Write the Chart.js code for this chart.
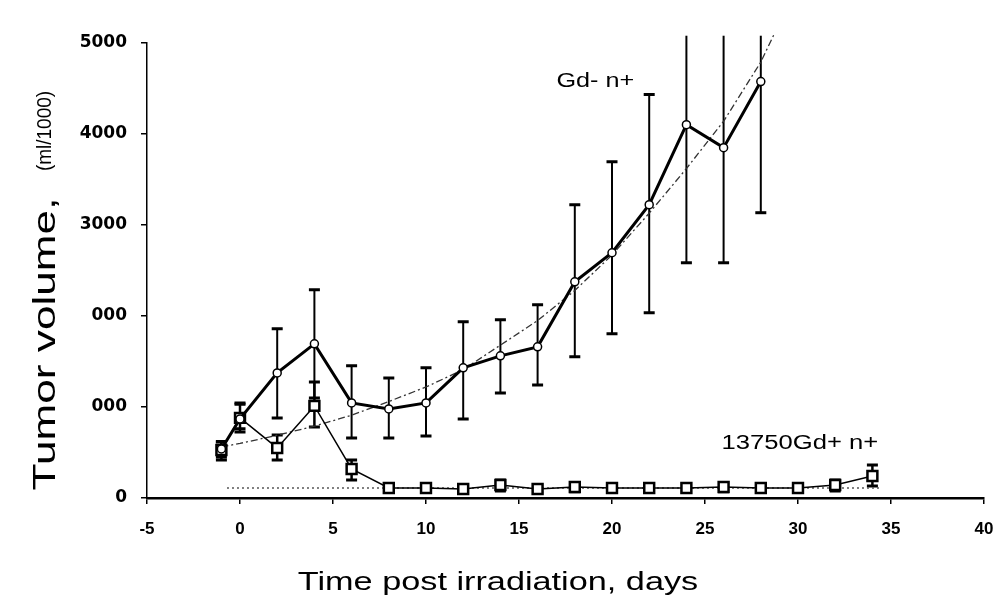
<!DOCTYPE html>
<html>
<head>
<meta charset="utf-8">
<script src="https://cdn.jsdelivr.net/npm/chart.js@4.4.1/dist/chart.umd.min.js"></script>
<style>
  html,body{margin:0;padding:0;background:#fff;}
  #wrap{width:1000px;height:601px;position:relative;}
</style>
</head>
<body>
<div id="wrap"><canvas id="c"></canvas></div>
<script>
// ---------- data ----------
const yTickLabels = ["0", "000", "000", "3000", "4000", "5000"];

// Gd- n+ (circles)
const daysMinus = [-1, 0, 2, 4, 6, 8, 10, 12, 14, 16, 18, 20, 22, 24, 26, 28];
const gdMinus   = [539, 869, 1375, 1694, 1045, 979, 1045, 1430, 1562, 1661, 2376, 2695, 3223, 4103, 3850, 4576];
const gdMinusLo = [450, 760, 880, 1100, 660, 660, 682, 869, 1155, 1243, 1551, 1804, 2035, 2585, 2585, 3135];
const gdMinusHi = [620, 1030, 1859, 2288, 1452, 1320, 1430, 1936, 1958, 2123, 3223, 3696, 4433, 5080, 5080, 5080];

// 13750Gd+ n+ (squares)
const daysPlus = [-1, 0, 2, 4, 6, 8, 10, 12, 14, 16, 18, 20, 22, 24, 26, 28, 30, 32, 34];
const gdPlus   = [528, 880, 550, 1012, 319, 110, 110, 99, 143, 99, 121, 110, 110, 110, 121, 110, 110, 143, 242];
const gdPlusLo = [418, 726, 418, 781, 198, 60, 70, 60, 77, 60, 70, 70, 70, 70, 70, 70, 70, 77, 132];
const gdPlusHi = [616, 1045, 693, 1276, 418, 160, 150, 140, 198, 140, 170, 150, 150, 150, 170, 150, 150, 198, 363];

// fitted curves
const fitMinusDays = [-1, 0, 2, 4, 6, 8, 10, 12, 14, 16, 18, 20, 22, 24, 26, 28, 28.7];
const fitMinus     = [561, 600, 690, 790, 910, 1060, 1220, 1410, 1680, 1950, 2280, 2670, 3130, 3620, 4140, 4790, 5090];
const fitPlusDays  = [-0.7, 34.5];
const fitPlus      = [110, 110];

// helpers
const pts = (xs, ys) => xs.map((x, i) => ({ x, y: ys[i] }));

// stretched text (the original lettering is wide)
function drawText(ctx, txt, x, y, font, sx, rot){
  ctx.save();
  ctx.translate(x, y);
  if (rot) ctx.rotate(rot);
  ctx.scale(sx, 1);
  ctx.font = font;
  ctx.textAlign = "center";
  ctx.textBaseline = "alphabetic";
  ctx.fillStyle = "#000";
  ctx.fillText(txt, 0, 0);
  ctx.restore();
}

// error bars, drawn through the chart scales
const errorBars = {
  id: "errorBars",
  beforeDatasetsDraw(chart){
    const { ctx, scales: { x, y } } = chart;
    const sets = [
      { xs: daysMinus, lo: gdMinusLo, hi: gdMinusHi, w: 2, cap: 11 },
      { xs: daysPlus,  lo: gdPlusLo,  hi: gdPlusHi,  w: 2.5, cap: 11 }
    ];
    ctx.save();
    ctx.strokeStyle = "#000";
    sets.forEach(s => {
      s.xs.forEach((d, i) => {
        const px = x.getPixelForValue(d);
        const top = y.getPixelForValue(s.hi[i]);
        const bot = y.getPixelForValue(s.lo[i]);
        ctx.lineWidth = s.w;
        ctx.beginPath();
        ctx.moveTo(px, top); ctx.lineTo(px, bot);
        ctx.stroke();
        ctx.lineWidth = 3;
        ctx.beginPath();
        if (s.hi[i] <= 5000) { ctx.moveTo(px - s.cap / 2, top); ctx.lineTo(px + s.cap / 2, top); }
        ctx.moveTo(px - s.cap / 2, bot); ctx.lineTo(px + s.cap / 2, bot);
        ctx.stroke();
      });
    });
    ctx.restore();
  }
};

const texts = {
  id: "texts",
  beforeDraw(chart){
    const ctx = chart.ctx;
    ctx.save();
    ctx.fillStyle = "#fff";
    ctx.fillRect(0, 0, chart.width, chart.height);
    ctx.restore();
  },
  afterDraw(chart){
    const { ctx, scales: { x, y } } = chart;
    // series labels
    drawText(ctx, "Gd- n+", x.getPixelForValue(19.1), y.getPixelForValue(4520), '21px "Liberation Sans"', 1.2);
    drawText(ctx, "13750Gd+ n+", x.getPixelForValue(30.1), y.getPixelForValue(540), '20px "Liberation Sans"', 1.28);
    // axis titles
    drawText(ctx, "Time post irradiation, days", 498, 590, '25px "Liberation Sans"', 1.37);
    drawText(ctx, "Tumor volume,", 55, 344, '32px "Liberation Sans"', 1.38, -Math.PI / 2);
    drawText(ctx, "(ml/1000)", 51, 131, '20px "Liberation Sans"', 0.95, -Math.PI / 2);
  }
};

const ctx = document.getElementById("c").getContext("2d");
new Chart(ctx, {
  type: "scatter",
  data: {
    datasets: [
      { label: "Gd- n+", data: pts(daysMinus, gdMinus), showLine: true,
        borderColor: "#000", borderWidth: 3, pointStyle: "circle", pointRadius: 4,
        pointBackgroundColor: "#fff", pointBorderColor: "#000", pointBorderWidth: 1.5 },
      { label: "13750Gd+ n+", data: pts(daysPlus, gdPlus), showLine: true,
        borderColor: "#000", borderWidth: 1.5, pointStyle: "rect", pointRadius: 7,
        pointBackgroundColor: "#fff", pointBorderColor: "#000", pointBorderWidth: 2.5 },
      { label: "fit Gd- n+", data: pts(fitMinusDays, fitMinus), showLine: true,
        borderColor: "#333", borderWidth: 1.3, borderDash: [7, 3, 2, 3], pointRadius: 0,
        clip: { left: 0, top: 12, right: 0, bottom: 0 } },
      { label: "fit 13750Gd+ n+", data: pts(fitPlusDays, fitPlus), showLine: true,
        borderColor: "#555", borderWidth: 1.5, borderDash: [2, 3], pointRadius: 0 }
    ]
  },
  options: {
    responsive: true,
    maintainAspectRatio: false,
    animation: false,
    layout: { padding: { left: 0, top: 43, right: 16, bottom: 0 } },
    plugins: { legend: { display: false }, tooltip: { enabled: false } },
    elements: { line: { tension: 0 } },
    scales: {
      x: {
        type: "linear", min: -5, max: 40,
        ticks: { stepSize: 5, color: "#000", padding: 15, maxRotation: 0, autoSkip: false,
                 font: { family: "Liberation Sans", size: 17, weight: "bold" } },
        grid: { drawOnChartArea: false, drawTicks: true, tickLength: 6, color: "#000", lineWidth: 1.5 },
        border: { color: "#000", width: 2.5 },
        afterFit(s){ s.height = 103; s.paddingLeft = 0; s.paddingRight = 0; }
      },
      y: {
        type: "linear", min: 0, max: 5000,
        ticks: { stepSize: 1000, color: "#000", padding: 14,
                 callback: (v, i) => yTickLabels[i],
                 font: { family: "DejaVu Sans", size: 17, weight: "bold" } },
        grid: { drawOnChartArea: false, drawTicks: true, tickLength: 6, color: "#000", lineWidth: 1.5 },
        border: { color: "#000", width: 1.5 },
        afterFit(s){ s.width = 147; }
      }
    }
  },
  plugins: [errorBars, texts]
});
</script>
</body>
</html>
